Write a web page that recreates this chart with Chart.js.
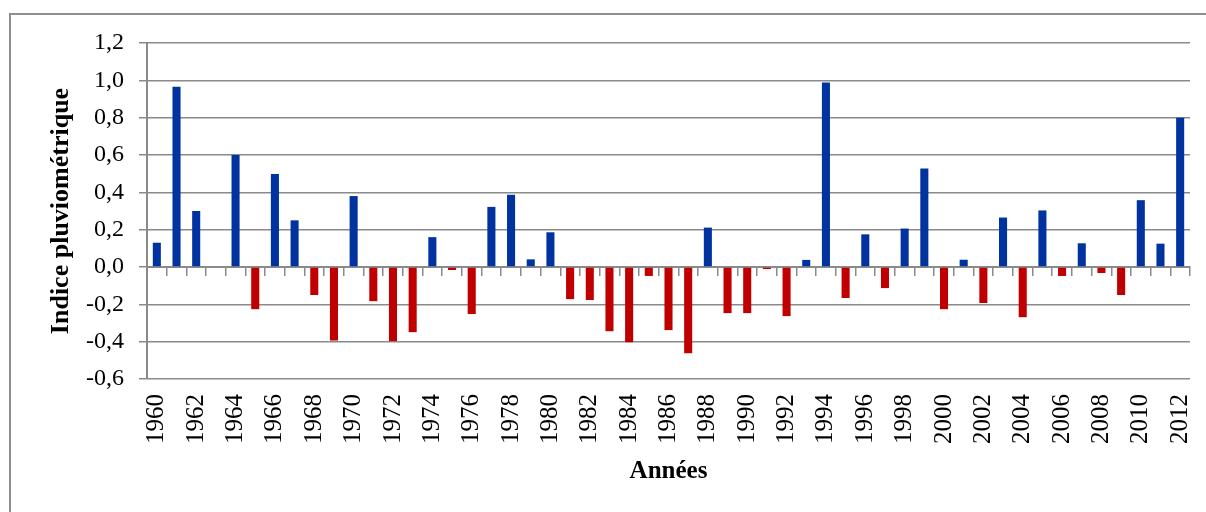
<!DOCTYPE html>
<html>
<head>
<meta charset="utf-8">
<script src="https://cdn.jsdelivr.net/npm/chart.js@4.4.1/dist/chart.umd.min.js"></script>
<style>
html, body { margin: 0; padding: 0; background: #fff; overflow: hidden; }
#frame {
    position: absolute; left: 9px; top: 13px; width: 1300px; height: 600px;
    border-left: 2px solid #8e8e8e; border-top: 2px solid #8e8e8e;
}
#indice_chart { position: absolute; left: 0; top: 0; }
</style>
</head>
<body>
<div id="frame"></div>
<canvas id="indice_chart" width="1206" height="512"></canvas>
<script>
const years = [
    '1960', '1961', '1962', '1963', '1964', '1965', '1966', '1967', '1968', '1969',
    '1970', '1971', '1972', '1973', '1974', '1975', '1976', '1977', '1978', '1979',
    '1980', '1981', '1982', '1983', '1984', '1985', '1986', '1987', '1988', '1989',
    '1990', '1991', '1992', '1993', '1994', '1995', '1996', '1997', '1998', '1999',
    '2000', '2001', '2002', '2003', '2004', '2005', '2006', '2007', '2008', '2009',
    '2010', '2011', '2012'
];
const indice = [
    0.13, 0.965, 0.30, 0, 0.60, -0.226, 0.498, 0.25, -0.15, -0.394,
    0.38, -0.183, -0.397, -0.349, 0.16, -0.016, -0.252, 0.322, 0.387, 0.041,
    0.186, -0.172, -0.177, -0.344, -0.403, -0.048, -0.338, -0.462, 0.211, -0.247,
    -0.247, -0.011, -0.263, 0.038, 0.988, -0.166, 0.175, -0.113, 0.206, 0.528,
    -0.226, 0.039, -0.193, 0.265, -0.269, 0.303, -0.048, 0.127, -0.032, -0.15,
    0.358, 0.125, 0.80
];
const yTicks = [-0.6, -0.4, -0.2, 0, 0.2, 0.4, 0.6, 0.8, 1.0, 1.2];

const blue = '#0033a0';
const red = '#c00000';
const gridGrey = '#8a8a8a';
const serif = "'Liberation Serif', 'Times New Roman', serif";

const ctx = document.getElementById('indice_chart').getContext('2d');

const indice_chart = new Chart(ctx, {
    type: 'bar',
    data: {
        labels: years,
        datasets: [{
            label: 'Indice pluviométrique',
            data: indice,
            xAxisID: 'x',
            yAxisID: 'y',
            backgroundColor: indice.map(v => v >= 0 ? blue : red),
            barPercentage: 0.41,
            categoryPercentage: 1,
        }]
    },
    options: {
        responsive: false,
        animation: false,
        layout: {
            padding: { left: 20, right: 16, top: 43, bottom: 20 }
        },
        plugins: {
            legend: { display: false },
            tooltip: { enabled: false },
        },
        scales: {
            x: {
                type: 'category',
                position: 'bottom',
                grid: { display: false, drawTicks: false },
                border: { display: false },
                ticks: {
                    autoSkip: false,
                    minRotation: 90,
                    maxRotation: 90,
                    padding: 15,
                    color: '#000',
                    font: { family: serif, size: 25 },
                    // une année sur deux, comme l'original
                    callback: (value, index) => index % 2 === 0 ? years[index] : '',
                },
                title: {
                    display: true,
                    text: 'Années',
                    color: '#000',
                    font: { family: serif, size: 25, weight: 'bold' },
                    padding: { top: 0, bottom: 5 },
                },
                afterFit: (scale) => {
                    scale.height = 113;
                    scale.paddingLeft = 0;
                    scale.paddingRight = 0;
                },
            },
            // ligne du zéro avec les graduations entre les années
            xZero: {
                type: 'category',
                position: { y: 0 },
                grid: {
                    offset: true,
                    drawOnChartArea: false,
                    tickLength: 8,
                    color: gridGrey,
                    lineWidth: 1.5,
                },
                border: { color: gridGrey, width: 2 },
                ticks: { display: false },
            },
            y: {
                min: -0.6,
                max: 1.2,
                afterBuildTicks: (scale) => {
                    scale.ticks = yTicks.map(v => ({ value: v }));
                },
                ticks: {
                    padding: 15,
                    color: '#000',
                    font: { family: serif, size: 24 },
                    callback: (value) => (Math.abs(value) < 1e-9 ? 0 : value).toFixed(1).replace('.', ','),
                },
                grid: {
                    color: gridGrey,
                    lineWidth: 1.5,
                    tickLength: 8,
                },
                border: { color: gridGrey, width: 2 },
                title: {
                    display: true,
                    text: 'Indice pluviométrique',
                    color: '#000',
                    font: { family: serif, size: 26, weight: 'bold' },
                    padding: { top: 26, bottom: 0 },
                },
                afterFit: (scale) => { scale.width = 127; },
            }
        }
    }
});
</script>
</body>
</html>
